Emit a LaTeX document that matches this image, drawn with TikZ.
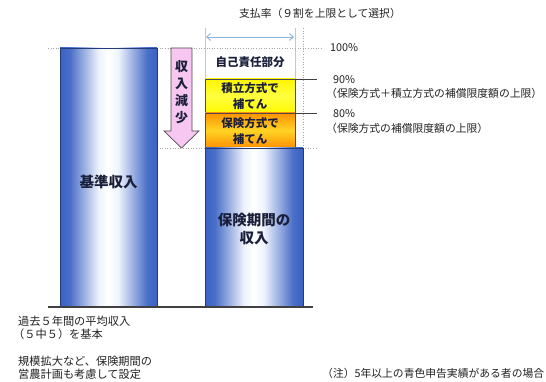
\documentclass[tikz,border=0pt]{standalone}
\usepackage{fontspec}
\setmainfont{Noto Sans CJK JP}
\usetikzlibrary{arrows.meta}
\definecolor{barblue}{HTML}{3A62C4}
\definecolor{barlight}{HTML}{EEF3FC}
\definecolor{pinkfill}{HTML}{F7C6F1}
\definecolor{arrowblue}{HTML}{8DB4DA}
\definecolor{txt}{HTML}{222222}
\definecolor{lblue}{HTML}{1A1F3A}
\pgfdeclarehorizontalshading{bluebar}{100bp}{color(0bp)=(barblue); color(25bp)=(barblue); color(30bp)=(barblue!92!white); color(45bp)=(barlight); color(50bp)=(white); color(55bp)=(barlight); color(70bp)=(barblue!92!white); color(75bp)=(barblue); color(100bp)=(barblue)}
\tikzset{
  lvl/.style={draw=gray!70, line width=0.6pt, dotted},
  tick/.style={draw=black!75, line width=0.6pt},
  thinline/.style={draw=gray!45, line width=0.5pt},
  bluebox/.style={shading=bluebar, draw=barblue!60!black, line width=0.4pt},
  ybox/.style={top color=yellow!92!orange, bottom color=yellow!95!orange, middle color=yellow!75!white, draw=black!70, line width=0.6pt},
  obox/.style={top color=orange!85!yellow, bottom color=orange!88!yellow, middle color=orange!40!yellow!85!white, draw=black!70, line width=0.6pt},
  lab/.style={font=\bfseries\fontsize{11.5}{15.5}\selectfont, text=lblue, align=center, inner sep=0pt},
  biglab/.style={font=\bfseries\fontsize{14.5}{18}\selectfont, text=lblue, align=center, inner sep=0pt},
  small/.style={font=\fontsize{10.8}{13}\selectfont, text=txt, inner sep=0pt, anchor=west, align=left},
  note/.style={small, font=\fontsize{11.2}{14}\selectfont},
}
\begin{document}
\begin{tikzpicture}[x=1pt,y=-1pt]
\useasboundingbox[fill=white] (0,0) rectangle (546,382);
% top title and width arrow
\node[small, anchor=center] (title) at (320,13) {支払率（９割を上限として選択）};
\coordinate (wl) at (205,28);
\coordinate (wr) at (295,28);
\draw[thinline] (wl) -- (205,79);
\draw[thinline] (wr) -- (295,79);
\draw[lvl] (303,28) -- (303,148);
\coordinate (al) at (206,37);
\coordinate (ar) at (294,37);
\draw[arrowblue, line width=0.9pt, {Straight Barb[length=4pt,width=7pt]}-{Straight Barb[length=4pt,width=7pt]}] (al) -- (ar);
% level lines
\draw[lvl] (48,48) -- (323,48);
\draw[lvl] (157,148) -- (317,148);
% left bar
\path[bluebox] (60,48) rectangle (157,307);
\node[biglab] (kijun) at (108.5,182) {基準収入};
% pink arrow
\draw[fill=pinkfill, draw=black!70, line width=0.7pt, line join=miter]
  (171,48) -- (192,48) -- (192,131) -- (199,131) -- (181.5,148) -- (164,131) -- (171,131) -- cycle;
\node[font=\bfseries\fontsize{13}{17}\selectfont, text=lblue, align=center, inner sep=0pt] (gen) at (181.5,92.5) {収\\入\\減\\少};
% right column
\node[lab] (jiko) at (250,62) {自己責任部分};
\path[ybox] (205,79) rectangle (295,113);
\node[lab] (tsumi) at (250,96) {積立方式で\\補てん};
\path[obox] (205,113) rectangle (295,148);
\node[lab] (hoken) at (250,131) {保険方式で\\補てん};
\path[bluebox] (205,148) rectangle (303,307);
\node[biglab] (kikan) at (254,229) {保険期間の\\収入};
% ticks
\draw[tick] (295,79) -- (317,79);
\draw[tick] (295,113) -- (317,113);
% baseline
\draw[black!75, line width=1.2pt] (48,307) -- (313,307);
% percent labels
\node[small] (p100) at (330,48) {100\%};
\node[small] (p90) at (333,80) {90\%};
\node[small] (p90b) at (326,93) {（保険方式＋積立方式の補償限度額の上限）};
\node[small] (p80) at (333,114) {80\%};
\node[small] (p80b) at (326,128) {（保険方式の補償限度額の上限）};
% bottom notes
\node[note] (n1) at (18,321) {過去５年間の平均収入};
\node[note] (n2) at (13,334) {（５中５）を基本};
\node[note] (n3) at (18,361) {規模拡大など、保険期間の};
\node[note] (n4) at (18,374) {営農計画も考慮して設定};
\node[small] (nt) at (322,373) {（注）5年以上の青色申告実績がある者の場合};
\end{tikzpicture}
\end{document}
